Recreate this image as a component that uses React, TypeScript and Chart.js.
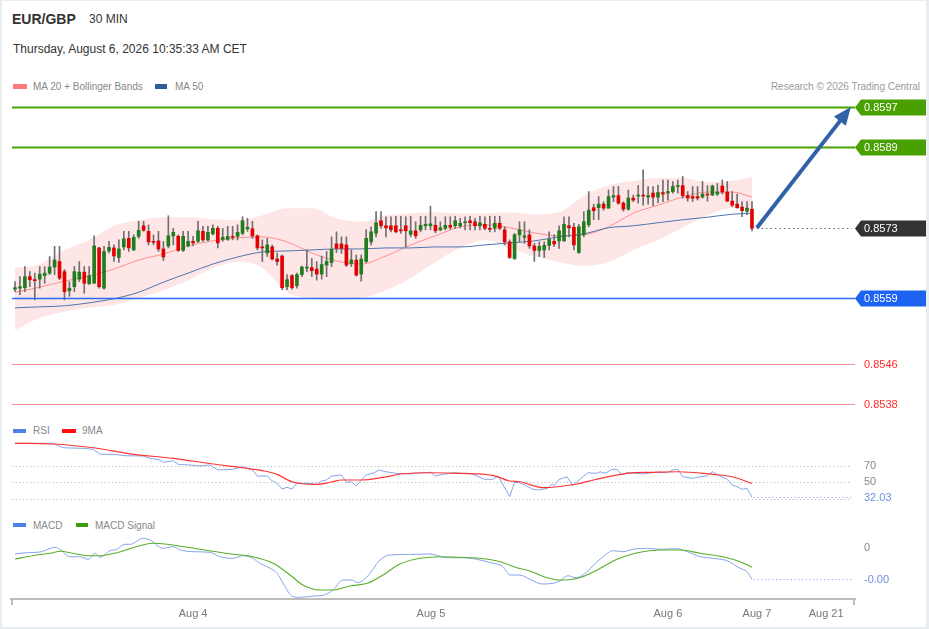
import React, { useEffect, useRef } from "react";
import { Chart, registerables } from "chart.js";

Chart.register(...registerables);

const FONT = '"Liberation Sans", Arial, Helvetica, sans-serif';

// ---------------- candles (30 min) ----------------
const opens = [
  0.85608, 0.85610, 0.85611, 0.85633, 0.85627, 0.85628, 0.85635, 0.85640, 0.85652, 0.85663,
  0.85643, 0.85605, 0.85613, 0.85628, 0.85642, 0.85619, 0.85620, 0.85690, 0.85610, 0.85684,
  0.85690, 0.85671, 0.85692, 0.85709, 0.85686, 0.85713, 0.85734, 0.85723, 0.85703, 0.85704,
  0.85688, 0.85694, 0.85714, 0.85713, 0.85685, 0.85694, 0.85703, 0.85703, 0.85723, 0.85706,
  0.85718, 0.85729, 0.85707, 0.85707, 0.85713, 0.85713, 0.85719, 0.85728, 0.85728, 0.85714,
  0.85692, 0.85680, 0.85692, 0.85668, 0.85674, 0.85613, 0.85635, 0.85615, 0.85637, 0.85650,
  0.85651, 0.85648, 0.85638, 0.85656, 0.85661, 0.85698, 0.85698, 0.85696, 0.85659, 0.85666,
  0.85638, 0.85663, 0.85702, 0.85719, 0.85744, 0.85734, 0.85734, 0.85734, 0.85726, 0.85734,
  0.85717, 0.85724, 0.85726, 0.85734, 0.85734, 0.85735, 0.85726, 0.85729, 0.85735, 0.85734,
  0.85734, 0.85740, 0.85744, 0.85742, 0.85734, 0.85737, 0.85729, 0.85729, 0.85739, 0.85726,
  0.85702, 0.85669, 0.85716, 0.85711, 0.85716, 0.85694, 0.85685, 0.85686, 0.85695, 0.85703,
  0.85704, 0.85704, 0.85734, 0.85731, 0.85681, 0.85716, 0.85736, 0.85770, 0.85770, 0.85777,
  0.85769, 0.85791, 0.85794, 0.85779, 0.85767, 0.85789, 0.85793, 0.85794, 0.85791, 0.85799,
  0.85791, 0.85800, 0.85799, 0.85802, 0.85812, 0.85814, 0.85794, 0.85792, 0.85792, 0.85791,
  0.85797, 0.85795, 0.85797, 0.85813, 0.85801, 0.85783, 0.85777, 0.85771, 0.85763, 0.85767,
];
const highs = [
  0.85623, 0.85633, 0.85653, 0.85643, 0.85640, 0.85653, 0.85653, 0.85673, 0.85693, 0.85693,
  0.85647, 0.85623, 0.85653, 0.85663, 0.85653, 0.85653, 0.85714, 0.85691, 0.85693, 0.85703,
  0.85696, 0.85706, 0.85723, 0.85723, 0.85716, 0.85743, 0.85743, 0.85736, 0.85716, 0.85723,
  0.85703, 0.85754, 0.85729, 0.85716, 0.85723, 0.85723, 0.85713, 0.85743, 0.85733, 0.85733,
  0.85736, 0.85733, 0.85729, 0.85733, 0.85733, 0.85736, 0.85752, 0.85749, 0.85743, 0.85716,
  0.85706, 0.85709, 0.85696, 0.85680, 0.85676, 0.85637, 0.85637, 0.85640, 0.85654, 0.85686,
  0.85669, 0.85663, 0.85674, 0.85683, 0.85712, 0.85722, 0.85712, 0.85712, 0.85686, 0.85676,
  0.85676, 0.85726, 0.85732, 0.85762, 0.85762, 0.85752, 0.85752, 0.85753, 0.85753, 0.85752,
  0.85753, 0.85742, 0.85753, 0.85753, 0.85773, 0.85752, 0.85742, 0.85752, 0.85752, 0.85753,
  0.85749, 0.85752, 0.85753, 0.85749, 0.85753, 0.85752, 0.85753, 0.85753, 0.85753, 0.85732,
  0.85706, 0.85719, 0.85742, 0.85742, 0.85726, 0.85699, 0.85702, 0.85702, 0.85722, 0.85716,
  0.85734, 0.85752, 0.85752, 0.85739, 0.85737, 0.85762, 0.85802, 0.85777, 0.85792, 0.85782,
  0.85805, 0.85812, 0.85812, 0.85782, 0.85805, 0.85795, 0.85814, 0.85845, 0.85812, 0.85812,
  0.85815, 0.85825, 0.85825, 0.85822, 0.85825, 0.85832, 0.85802, 0.85812, 0.85812, 0.85822,
  0.85814, 0.85815, 0.85818, 0.85825, 0.85822, 0.85802, 0.85797, 0.85782, 0.85782, 0.85782,
];
const lows = [
  0.85603, 0.85597, 0.85603, 0.85613, 0.85587, 0.85610, 0.85620, 0.85637, 0.85637, 0.85627,
  0.85587, 0.85594, 0.85603, 0.85623, 0.85600, 0.85617, 0.85619, 0.85610, 0.85608, 0.85680,
  0.85663, 0.85661, 0.85686, 0.85683, 0.85685, 0.85709, 0.85723, 0.85696, 0.85696, 0.85683,
  0.85665, 0.85690, 0.85696, 0.85683, 0.85683, 0.85692, 0.85694, 0.85701, 0.85703, 0.85704,
  0.85716, 0.85690, 0.85703, 0.85705, 0.85706, 0.85706, 0.85716, 0.85723, 0.85709, 0.85686,
  0.85663, 0.85673, 0.85666, 0.85656, 0.85607, 0.85607, 0.85608, 0.85610, 0.85633, 0.85643,
  0.85633, 0.85626, 0.85628, 0.85633, 0.85653, 0.85681, 0.85679, 0.85653, 0.85653, 0.85634,
  0.85624, 0.85661, 0.85696, 0.85712, 0.85729, 0.85712, 0.85722, 0.85720, 0.85719, 0.85692,
  0.85712, 0.85709, 0.85722, 0.85726, 0.85726, 0.85720, 0.85724, 0.85726, 0.85727, 0.85729,
  0.85730, 0.85726, 0.85726, 0.85726, 0.85726, 0.85726, 0.85722, 0.85722, 0.85726, 0.85696,
  0.85669, 0.85667, 0.85702, 0.85699, 0.85689, 0.85663, 0.85673, 0.85671, 0.85686, 0.85693,
  0.85689, 0.85703, 0.85712, 0.85686, 0.85679, 0.85712, 0.85732, 0.85746, 0.85746, 0.85765,
  0.85769, 0.85782, 0.85777, 0.85763, 0.85765, 0.85782, 0.85779, 0.85775, 0.85777, 0.85774,
  0.85780, 0.85782, 0.85785, 0.85799, 0.85799, 0.85789, 0.85783, 0.85782, 0.85785, 0.85789,
  0.85783, 0.85794, 0.85794, 0.85797, 0.85782, 0.85772, 0.85769, 0.85752, 0.85756, 0.85724,
];
const closes = [
  0.85611, 0.85613, 0.85633, 0.85627, 0.85625, 0.85638, 0.85640, 0.85652, 0.85666, 0.85630,
  0.85603, 0.85610, 0.85643, 0.85642, 0.85620, 0.85635, 0.85694, 0.85613, 0.85683, 0.85691,
  0.85674, 0.85688, 0.85708, 0.85690, 0.85711, 0.85725, 0.85725, 0.85702, 0.85701, 0.85688,
  0.85672, 0.85714, 0.85721, 0.85685, 0.85713, 0.85703, 0.85700, 0.85724, 0.85706, 0.85721,
  0.85729, 0.85700, 0.85711, 0.85713, 0.85711, 0.85721, 0.85744, 0.85731, 0.85714, 0.85690,
  0.85690, 0.85696, 0.85668, 0.85663, 0.85611, 0.85627, 0.85611, 0.85637, 0.85652, 0.85652,
  0.85645, 0.85638, 0.85657, 0.85663, 0.85687, 0.85689, 0.85689, 0.85656, 0.85666, 0.85636,
  0.85668, 0.85709, 0.85722, 0.85740, 0.85734, 0.85730, 0.85726, 0.85722, 0.85724, 0.85724,
  0.85724, 0.85714, 0.85735, 0.85737, 0.85738, 0.85724, 0.85730, 0.85735, 0.85731, 0.85744,
  0.85739, 0.85742, 0.85740, 0.85734, 0.85740, 0.85729, 0.85727, 0.85739, 0.85729, 0.85702,
  0.85671, 0.85716, 0.85726, 0.85714, 0.85694, 0.85685, 0.85693, 0.85695, 0.85707, 0.85698,
  0.85724, 0.85737, 0.85730, 0.85696, 0.85732, 0.85742, 0.85765, 0.85764, 0.85777, 0.85769,
  0.85792, 0.85794, 0.85779, 0.85767, 0.85789, 0.85785, 0.85794, 0.85793, 0.85794, 0.85791,
  0.85800, 0.85797, 0.85802, 0.85812, 0.85814, 0.85794, 0.85789, 0.85789, 0.85789, 0.85797,
  0.85795, 0.85813, 0.85801, 0.85801, 0.85783, 0.85775, 0.85770, 0.85764, 0.85769, 0.85729,
];

// ---------------- MA 20 + Bollinger Bands, MA 50 (read every 5 bars) ----------------
const bandAt = [0, 5, 10, 15, 20, 25, 30, 35, 40, 45, 50, 55, 60, 65, 70, 75, 80, 85, 90, 95, 100, 105, 110, 115, 120, 125, 130, 135, 140, 145, 149];
const bandUpper = [
  0.85650, 0.85658, 0.85686, 0.85706, 0.85734, 0.85745, 0.85751, 0.85751, 0.85747, 0.85745,
  0.85755, 0.85769, 0.85769, 0.85749, 0.85742, 0.85755, 0.85759, 0.85761, 0.85759, 0.85759,
  0.85761, 0.85757, 0.85761, 0.85793, 0.85815, 0.85823, 0.85829, 0.85829, 0.85821, 0.85823, 0.85831,
];
const bandLower = [
  0.85527, 0.85551, 0.85563, 0.85571, 0.85577, 0.85590, 0.85606, 0.85626, 0.85650, 0.85662,
  0.85650, 0.85602, 0.85590, 0.85587, 0.85590, 0.85606, 0.85630, 0.85662, 0.85690, 0.85706,
  0.85690, 0.85674, 0.85662, 0.85654, 0.85662, 0.85686, 0.85706, 0.85730, 0.85755, 0.85769, 0.85765,
];
const ma20 = [
  0.85602, 0.85612, 0.85624, 0.85634, 0.85648, 0.85666, 0.85678, 0.85694, 0.85704, 0.85710,
  0.85712, 0.85702, 0.85680, 0.85664, 0.85658, 0.85674, 0.85696, 0.85714, 0.85732, 0.85736,
  0.85730, 0.85720, 0.85714, 0.85716, 0.85732, 0.85759, 0.85775, 0.85791, 0.85801, 0.85801, 0.85791,
];
const ma50 = [
  0.85571, 0.85573, 0.85575, 0.85581, 0.85589, 0.85602, 0.85622, 0.85640, 0.85658, 0.85672,
  0.85682, 0.85684, 0.85686, 0.85688, 0.85688, 0.85690, 0.85690, 0.85692, 0.85692, 0.85696,
  0.85700, 0.85704, 0.85712, 0.85718, 0.85730, 0.85734, 0.85740, 0.85746, 0.85751, 0.85757, 0.85759,
];

// ---------------- key levels ----------------
const levelValues = [0.8597, 0.8589, 0.8573, 0.8559, 0.8546, 0.8538];
const levelKinds = ["target", "target", "last", "pivot", "support", "support"];
const arrowAt = [150, 169];
const arrowPrices = [0.8573, 0.8597];

// ---------------- RSI ----------------
const rsiAt = [
  0, 7.7, 9.7, 13.7, 15.8, 17.2, 19.8, 22.6, 25.9, 27.3, 29.3, 30, 32, 33, 35.4, 37.4, 39.4, 41, 44, 46,
  48, 49, 51, 52, 53, 54, 55, 56, 57, 59.6, 61, 62, 63, 64, 66, 67, 68, 69, 70, 71,
  72.6, 73.6, 75, 77, 80, 82, 84, 85, 86.5, 89, 90, 92, 93.4, 95, 96.6, 97.7, 98.7, 100, 101, 102,
  103.5, 104.7, 106, 107.6, 108.6, 109, 110, 111.6, 112.8, 113.8, 115.8, 117.7, 118.3, 119.3, 120.7,
  121.7, 122.7, 123.7, 125.8, 127, 129.8, 131.8, 133, 134, 135, 137, 138, 140, 141, 142.5,
  144, 145, 146, 147, 148, 149,
];
const rsiVal = [
  96.8, 96.8, 91.5, 90.8, 89.6, 83.6, 83.6, 81.9, 81.6, 78.8, 76.8, 74.0, 75.9, 71.6, 70.8, 69.6, 70.8, 64.8, 65.6, 68.7,
  64.8, 57.6, 57.6, 51.6, 48.8, 42.0, 44.0, 42.0, 48.8, 48.8, 47.6, 51.6, 52.8, 57.6, 58.8, 50.0, 50.7, 45.6, 52.8, 58.8,
  61.5, 64.8, 62.7, 60.8, 60.0, 61.5, 62.0, 57.6, 59.6, 61.5, 60.8, 60.8, 57.6, 53.6, 53.6, 57.6, 46.8, 32.7, 50.0, 49.6,
  45.6, 41.6, 40.8, 42.8, 48.0, 45.9, 53.6, 56.7, 45.9, 51.6, 61.5, 60.8, 62.7, 60.8, 65.6,
  65.6, 58.8, 61.5, 60.8, 60.0, 62.3, 61.5, 64.8, 65.6, 56.7, 54.8, 56.0, 57.9, 62.7, 57.6,
  53.6, 46.8, 44.8, 41.6, 42.8, 32.03,
];
const rsiMaAt = [0, 7.7, 15.8, 24, 32, 40, 46, 50, 53, 56, 61, 64, 66, 70, 74.4, 78, 84.5, 90, 96.6, 100, 102, 106.8, 113.6, 117, 123.7, 129, 134, 141, 145, 149];
const rsiMaVal = [96.8, 96.0, 91.5, 83.6, 78.8, 72.0, 67.5, 64.0, 59.6, 50.7, 47.6, 50.4, 52.8, 52.8, 56.0, 60.0, 61.5, 60.8, 58.4, 51.6, 50.7, 43.6, 48.0, 52.8, 60.8, 62.0, 62.7, 59.6, 56.7, 48.8];
const rsiLevels = [70, 50, 30];
const rsiLabelLevels = [70, 50];

// ---------------- MACD ----------------
const macdAt = [
  0, 2.4, 5.1, 8.1, 9.1, 11.1, 13.1, 14.8, 16.2, 17.2, 19.2, 20.6, 22.2, 23.3, 25.9, 27.3, 29.9, 31.9, 33.4, 36,
  39.4, 41.4, 44.1, 46.1, 48.1, 49.5, 51.6, 53, 54.2, 56.2, 57.6, 60.3, 62.3, 64.3, 66.3, 68.1, 69.3, 71.2, 73.8, 75.8,
  81.3, 83.9, 87.3, 90, 93.4, 96.6, 98.5, 100.1, 102.1, 104.1, 106.6, 108.8, 110.2, 111.8, 113.2, 114.8, 117.7, 118.9, 120.9, 122.9,
  124.9, 127.8, 130.4, 133.8, 135.9, 138.5, 141.1, 143.9, 146.6, 148, 149,
];
const macdVal = [
  -0.000060, -0.000047, -0.000040, 0.000007, -0.000013, -0.000087, -0.000087, -0.000113, -0.000053, -0.000093,
  -0.000027, -0.000013, 0.000037, 0.000037, 0.000097, 0.000080, -0.000003, 0.000013, -0.000020, -0.000037,
  -0.000043, -0.000087, -0.000103, -0.000077, -0.000103, -0.000153, -0.000203, -0.000253, -0.000353, -0.000487,
  -0.000493, -0.000480, -0.000473, -0.000420, -0.000320, -0.000320, -0.000347, -0.000287, -0.000120, -0.000070,
  -0.000063, -0.000060, -0.000097, -0.000097, -0.000113, -0.000153, -0.000180, -0.000270, -0.000270, -0.000313,
  -0.000360, -0.000353, -0.000327, -0.000277, -0.000297, -0.000270, -0.000137, -0.000087, -0.000027, -0.000037,
  -0.000013, -0.000003, -0.000013, -0.000007, -0.000037, -0.000087, -0.000103, -0.000127, -0.000203, -0.000237, -0.000313,
];
const signalAt = [
  0, 3.6, 7.1, 9.1, 11.7, 14.6, 17.2, 20.6, 23.9, 27.9, 30.7, 37.4, 44.1, 48.1, 52.2, 55.6, 58.2, 61.7, 64.3, 67.7,
  71.2, 74.4, 77.8, 81.9, 85.9, 90, 94, 98.1, 101.5, 104.1, 107.6, 110.2, 114.2, 117.7, 121.7, 125.8, 130.4, 134.5, 138.5, 143.1,
  146.6, 149,
];
const signalVal = [
  -0.000110, -0.000077, -0.000053, -0.000033, -0.000053, -0.000077, -0.000077, -0.000047, 0.000003, 0.000047,
  0.000037, -0.000013, -0.000063, -0.000087, -0.000153, -0.000270, -0.000370, -0.000420, -0.000420, -0.000380,
  -0.000353, -0.000270, -0.000160, -0.000103, -0.000087, -0.000093, -0.000103, -0.000137, -0.000197, -0.000230,
  -0.000297, -0.000320, -0.000297, -0.000220, -0.000113, -0.000047, -0.000020, -0.000020, -0.000053, -0.000087,
  -0.000137, -0.000193,
];

// ---------------- time axis ----------------
const xTickAt = [36, 84.1, 132, 150, 164];
const xTickLabels = ["Aug 4", "Aug 5", "Aug 6", "Aug 7", "Aug 21"];

// ---------------- scale ranges / layout ----------------
const X_MIN = -0.81;
const X_MAX = 169.83;
const PRICE_MIN = 0.853482;
const PRICE_MAX = 0.859938;
const RSI_MIN = 19.2;
const RSI_MAX = 103.2;
const MACD_MIN = -0.00051;
const MACD_MAX = 0.00018;
const PAD = { left: 11, right: 74, top: 0, bottom: 0 };
const TAG_RIGHT = 926;

const LEVEL_STYLE: Record<string, any> = {
  target: { line: "#4ba300", width: 2, tag: "#49a000", text: "#ffffff" },
  last: { line: "#666666", width: 1, tag: "#333333", text: "#ffffff", dotted: true },
  pivot: { line: "#2b6cf2", width: 1.5, tag: "#1b63f0", text: "#ffffff" },
  support: { line: "#ff8d8d", width: 1, tag: null, text: "#ff2b2b" },
};

function pts(xs: number[], ys: number[]) {
  return xs.map((x, i) => ({ x, y: ys[i] }));
}

const baseOptions = (yMin: number, yMax: number) => ({
  responsive: false,
  animation: false as const,
  devicePixelRatio: 1,
  events: [] as any[],
  layout: { padding: PAD },
  plugins: { legend: { display: false }, tooltip: { enabled: false } },
  scales: {
    x: { type: "linear" as const, min: X_MIN, max: X_MAX, display: false, offset: false },
    y: { type: "linear" as const, min: yMin, max: yMax, display: false },
  },
});

const mainDecor = {
  id: "mainDecor",
  afterDatasetsDraw(chart: any) {
    const { ctx, chartArea: a, scales } = chart;
    const x = scales.x;
    const y = scales.y;
    ctx.save();
    ctx.font = `11px ${FONT}`;
    ctx.textBaseline = "middle";
    levelValues.forEach((v, i) => {
      const st = LEVEL_STYLE[levelKinds[i]];
      const py = Math.round(y.getPixelForValue(v)) + 0.5;
      ctx.strokeStyle = st.line;
      ctx.lineWidth = st.width;
      ctx.beginPath();
      if (st.dotted) {
        ctx.setLineDash([1.5, 3]);
        ctx.moveTo(x.getPixelForValue(arrowAt[0]), py);
      } else {
        ctx.setLineDash([]);
        ctx.moveTo(a.left + 1, py);
      }
      ctx.lineTo(a.right - (st.dotted ? 3 : 0), py);
      ctx.stroke();
      ctx.setLineDash([]);
      if (st.tag) {
        ctx.fillStyle = st.tag;
        ctx.beginPath();
        ctx.moveTo(a.right, py);
        ctx.lineTo(a.right + 6, py - 8);
        ctx.lineTo(TAG_RIGHT, py - 8);
        ctx.lineTo(TAG_RIGHT, py + 8);
        ctx.lineTo(a.right + 6, py + 8);
        ctx.closePath();
        ctx.fill();
      }
      ctx.fillStyle = st.text;
      ctx.fillText(v.toFixed(4), a.right + 9, py + 0.5);
    });
    // arrow
    const x0 = x.getPixelForValue(arrowAt[0]);
    const y0 = y.getPixelForValue(arrowPrices[0]);
    const x1 = x.getPixelForValue(arrowAt[1]);
    const y1 = y.getPixelForValue(arrowPrices[1]);
    const ang = Math.atan2(y1 - y0, x1 - x0);
    const cs = Math.cos(ang);
    const sn = Math.sin(ang);
    const headLen = 18;
    const headW = 7.5;
    const bx = x1 - headLen * cs;
    const by = y1 - headLen * sn;
    ctx.strokeStyle = "#2f62a8";
    ctx.fillStyle = "#2f62a8";
    ctx.lineWidth = 4;
    ctx.beginPath();
    ctx.moveTo(x0, y0);
    ctx.lineTo(bx + 2 * cs, by + 2 * sn);
    ctx.stroke();
    ctx.beginPath();
    ctx.moveTo(x1, y1);
    ctx.lineTo(bx - headW * sn, by + headW * cs);
    ctx.lineTo(bx + headW * sn, by - headW * cs);
    ctx.closePath();
    ctx.fill();
    ctx.restore();
  },
};

const rsiDecor = {
  id: "rsiDecor",
  beforeDatasetsDraw(chart: any) {
    const { ctx, chartArea: a, scales } = chart;
    const y = scales.y;
    ctx.save();
    ctx.strokeStyle = "#b3b3b3";
    ctx.lineWidth = 1;
    ctx.setLineDash([1, 2.7]);
    rsiLevels.forEach((v) => {
      const py = Math.round(y.getPixelForValue(v)) + 0.5;
      ctx.beginPath();
      ctx.moveTo(a.left + 1, py);
      ctx.lineTo(a.right - 3, py);
      ctx.stroke();
    });
    ctx.restore();
  },
  afterDatasetsDraw(chart: any) {
    const { ctx, chartArea: a, scales } = chart;
    const x = scales.x;
    const y = scales.y;
    ctx.save();
    ctx.font = `11px ${FONT}`;
    ctx.textBaseline = "middle";
    ctx.fillStyle = "#888888";
    rsiLabelLevels.forEach((v) => {
      ctx.fillText(String(v), a.right + 9, y.getPixelForValue(v));
    });
    const last = rsiVal[rsiVal.length - 1];
    const py = Math.round(y.getPixelForValue(last)) + 0.5;
    ctx.strokeStyle = "#7f9fe6";
    ctx.lineWidth = 1;
    ctx.setLineDash([1, 2.7]);
    ctx.beginPath();
    ctx.moveTo(x.getPixelForValue(rsiAt[rsiAt.length - 1]) + 2, py);
    ctx.lineTo(a.right - 3, py);
    ctx.stroke();
    ctx.fillStyle = "#6f8fe0";
    ctx.fillText(last.toFixed(2), a.right + 9, py);
    ctx.restore();
  },
};

const macdDecor = {
  id: "macdDecor",
  afterDatasetsDraw(chart: any) {
    const { ctx, chartArea: a, scales } = chart;
    const x = scales.x;
    const y = scales.y;
    ctx.save();
    ctx.font = `11px ${FONT}`;
    ctx.textBaseline = "middle";
    ctx.fillStyle = "#888888";
    ctx.fillText("0", a.right + 9, y.getPixelForValue(0));
    const last = macdVal[macdVal.length - 1];
    const py = Math.round(y.getPixelForValue(last)) + 0.5;
    ctx.strokeStyle = "#7f9fe6";
    ctx.lineWidth = 1;
    ctx.setLineDash([1, 2.7]);
    ctx.beginPath();
    ctx.moveTo(x.getPixelForValue(macdAt[macdAt.length - 1]) + 2, py);
    ctx.lineTo(a.right - 3, py);
    ctx.stroke();
    ctx.setLineDash([]);
    ctx.fillStyle = "#6f8fe0";
    ctx.fillText(last.toFixed(2), a.right + 9, py);
    // axis end caps
    ctx.strokeStyle = "#bcbcbc";
    ctx.lineWidth = 2;
    ctx.beginPath();
    ctx.moveTo(a.left + 1, a.bottom);
    ctx.lineTo(a.left + 1, a.bottom + 6);
    ctx.moveTo(a.right - 1, a.bottom);
    ctx.lineTo(a.right - 1, a.bottom + 6);
    ctx.stroke();
    ctx.restore();
  },
};

function mainConfig(): any {
  const idx = opens.map((_, i) => i);
  const bull = opens.map((o, i) => closes[i] >= o);
  return {
    type: "bar",
    data: {
      datasets: [
        {
          type: "line",
          label: "BB upper",
          data: pts(bandAt, bandUpper),
          borderColor: "rgba(0,0,0,0)",
          backgroundColor: "rgba(250,140,140,0.22)",
          fill: "+1",
          pointRadius: 0,
          cubicInterpolationMode: "monotone",
          order: 10,
        },
        {
          type: "line",
          label: "BB lower",
          data: pts(bandAt, bandLower),
          borderColor: "rgba(0,0,0,0)",
          fill: false,
          pointRadius: 0,
          cubicInterpolationMode: "monotone",
          order: 10,
        },
        {
          type: "line",
          label: "MA 20",
          data: pts(bandAt, ma20),
          borderColor: "#ff8e8e",
          borderWidth: 1,
          fill: false,
          pointRadius: 0,
          cubicInterpolationMode: "monotone",
          order: 5,
        },
        {
          type: "line",
          label: "MA 50",
          data: pts(bandAt, ma50),
          borderColor: "#4d74b2",
          borderWidth: 1,
          fill: false,
          pointRadius: 0,
          cubicInterpolationMode: "monotone",
          order: 4,
        },
        {
          type: "bar",
          label: "wicks",
          data: idx.map((i) => ({ x: i, y: [lows[i], highs[i]] })),
          backgroundColor: "#707070",
          barThickness: 1,
          grouped: false,
          order: 2,
        },
        {
          type: "bar",
          label: "bodies",
          data: idx.map((i) => ({ x: i, y: [opens[i], closes[i]] })),
          backgroundColor: bull.map((b) => (b ? "#1f7d1f" : "#e30000")),
          barThickness: 3,
          minBarLength: 1,
          grouped: false,
          order: 1,
        },
      ],
    },
    options: baseOptions(PRICE_MIN, PRICE_MAX),
    plugins: [mainDecor],
  };
}

function rsiConfig(): any {
  return {
    type: "line",
    data: {
      datasets: [
        {
          label: "9MA",
          data: pts(rsiMaAt, rsiMaVal),
          borderColor: "#ff3535",
          borderWidth: 1.2,
          pointRadius: 0,
          cubicInterpolationMode: "monotone",
        },
        {
          label: "RSI",
          data: pts(rsiAt, rsiVal),
          borderColor: "#86a4ea",
          borderWidth: 1,
          pointRadius: 0,
          tension: 0,
        },
      ],
    },
    options: baseOptions(RSI_MIN, RSI_MAX),
    plugins: [rsiDecor],
  };
}

function macdConfig(): any {
  const opts: any = baseOptions(MACD_MIN, MACD_MAX);
  opts.scales.x = {
    type: "linear",
    min: X_MIN,
    max: X_MAX,
    offset: false,
    display: true,
    grid: { display: false, drawTicks: false, tickLength: 0 },
    border: { display: true, color: "#bcbcbc", width: 2 },
    afterBuildTicks: (s: any) => {
      s.ticks = xTickAt.map((v) => ({ value: v }));
    },
    afterFit: (s: any) => {
      s.height = 30;
    },
    ticks: {
      autoSkip: false,
      maxRotation: 0,
      padding: 8,
      color: "#777777",
      font: { family: FONT, size: 11 },
      callback: (_v: any, i: number) => xTickLabels[i],
    },
  };
  return {
    type: "line",
    data: {
      datasets: [
        {
          label: "MACD Signal",
          data: pts(signalAt, signalVal),
          borderColor: "#5aae2a",
          borderWidth: 1.1,
          pointRadius: 0,
          cubicInterpolationMode: "monotone",
        },
        {
          label: "MACD",
          data: pts(macdAt, macdVal),
          borderColor: "#86a4ea",
          borderWidth: 1,
          pointRadius: 0,
          cubicInterpolationMode: "monotone",
        },
      ],
    },
    options: opts,
    plugins: [macdDecor],
  };
}

const txt = (
  left: number,
  top: number,
  size: number,
  color: string,
  extra: React.CSSProperties = {}
): React.CSSProperties => ({
  position: "absolute",
  left,
  top,
  fontSize: size,
  lineHeight: 1,
  color,
  whiteSpace: "nowrap",
  ...extra,
});

const sw = (left: number, top: number, w: number, h: number, bg: string): React.CSSProperties => ({
  position: "absolute",
  left,
  top,
  width: w,
  height: h,
  background: bg,
});

export default function App() {
  const mainRef = useRef<HTMLCanvasElement>(null);
  const rsiRef = useRef<HTMLCanvasElement>(null);
  const macdRef = useRef<HTMLCanvasElement>(null);

  useEffect(() => {
    const c1 = new Chart(mainRef.current as HTMLCanvasElement, mainConfig());
    const c2 = new Chart(rsiRef.current as HTMLCanvasElement, rsiConfig());
    const c3 = new Chart(macdRef.current as HTMLCanvasElement, macdConfig());
    return () => {
      c1.destroy();
      c2.destroy();
      c3.destroy();
    };
  }, []);

  return (
    <div
      style={{
        position: "relative",
        width: 929,
        height: 629,
        background: "#ffffff",
        fontFamily: FONT,
        overflow: "hidden",
      }}
    >
      <style>{`html,body{margin:0;padding:0;background:#fff;}`}</style>

      <div style={txt(12, 12, 14, "#333333", { fontWeight: 700 })}>EUR/GBP</div>
      <div style={txt(89, 13, 12, "#333333")}>30 MIN</div>
      <div style={txt(13, 43, 12, "#333333")}>Thursday, August 6, 2026 10:35:33 AM CET</div>

      <div style={sw(13, 84, 14, 5, "#ff7b7b")} />
      <div style={txt(33, 82, 10, "#888888")}>MA 20 + Bollinger Bands</div>
      <div style={sw(155, 84, 12, 5, "#2f5d9c")} />
      <div style={txt(175, 82, 10, "#888888")}>MA 50</div>
      <div style={txt(0, 82, 10, "#9a9a9a", { left: "auto", right: 9 })}>Research © 2026 Trading Central</div>

      <div style={sw(13, 429, 13, 4, "#4f80e8")} />
      <div style={txt(33, 426, 10, "#888888")}>RSI</div>
      <div style={sw(62, 429, 14, 4, "#ff1010")} />
      <div style={txt(82, 426, 10, "#888888")}>9MA</div>

      <div style={sw(13, 523, 13, 4, "#4f80e8")} />
      <div style={txt(33, 521, 10, "#888888")}>MACD</div>
      <div style={sw(76, 523, 12, 4, "#3c9a0c")} />
      <div style={txt(95, 521, 10, "#888888")}>MACD Signal</div>

      <canvas
        ref={mainRef}
        width={929}
        height={325}
        style={{ position: "absolute", left: 0, top: 95, width: 929, height: 325 }}
      />
      <canvas
        ref={rsiRef}
        width={929}
        height={70}
        style={{ position: "absolute", left: 0, top: 438, width: 929, height: 70 }}
      />
      <canvas
        ref={macdRef}
        width={929}
        height={99}
        style={{ position: "absolute", left: 0, top: 530, width: 929, height: 99 }}
      />

      <div
        style={{
          position: "absolute",
          left: 0,
          top: 0,
          width: 929,
          height: 629,
          boxSizing: "border-box",
          borderStyle: "solid",
          borderColor: "#e8edf0",
          borderWidth: "1px 3px 2px 2px",
          pointerEvents: "none",
        }}
      />
    </div>
  );
}
